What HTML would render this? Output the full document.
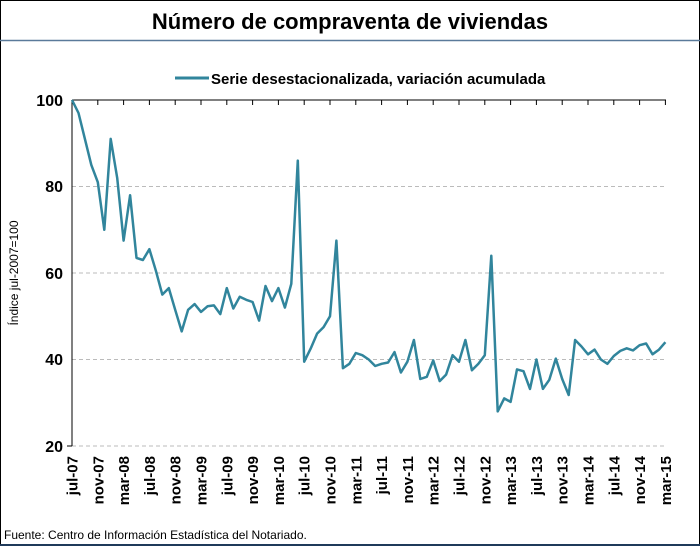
<!DOCTYPE html>
<html><head><meta charset="utf-8"><style>
body{margin:0;background:#fff}
svg text{font-family:"Liberation Sans",Arial,sans-serif}
</style></head><body>
<svg width="700" height="546" viewBox="0 0 700 546" xmlns="http://www.w3.org/2000/svg">
<rect x="0.5" y="0.5" width="699" height="545" fill="#fff" stroke="#000"/>
<line x1="0" y1="40.5" x2="700" y2="40.5" stroke="#5a7a9a" stroke-width="1.5"/>
<line x1="0" y1="545" x2="700" y2="545" stroke="#1f3a5a" stroke-width="2"/>
<text x="350" y="29" text-anchor="middle" font-size="22" font-weight="bold">Número de compraventa de viviendas</text>
<line x1="175" y1="78" x2="209" y2="78" stroke="#31859c" stroke-width="3"/>
<text x="211" y="84" font-size="15" font-weight="bold">Serie desestacionalizada, variación acumulada</text>
<text transform="translate(18,273) rotate(-90)" text-anchor="middle" font-size="12">Índice jul-2007=100</text>
<g stroke="#bbb" stroke-dasharray="4,3">
<line x1="72" y1="186.5" x2="666" y2="186.5"/>
<line x1="72" y1="273" x2="666" y2="273"/>
<line x1="72" y1="359.5" x2="666" y2="359.5"/>
<line x1="72" y1="446" x2="666" y2="446"/>
</g>
<line x1="72" y1="100" x2="72" y2="446" stroke="#000"/>
<line x1="72" y1="100" x2="666" y2="100" stroke="#000"/>
<g stroke="#000" id="ticks"></g>
<g font-size="16" font-weight="bold" text-anchor="end">
<text x="63" y="106">100</text><text x="63" y="192">80</text><text x="63" y="279">60</text><text x="63" y="365">40</text><text x="63" y="452">20</text>
</g>
<line x1="67" y1="446" x2="72" y2="446" stroke="#000"/>
<g id="xl" font-size="15" font-weight="bold"></g>
<polyline id="ser" fill="none" stroke="#31859c" stroke-width="2.5" stroke-linejoin="round"/>
<text x="4" y="539" font-size="12">Fuente: Centro de Información Estadística del Notariado.</text>
</svg>
<script>
var d=[100,97,91,85,81,70,91,82,67.5,78,63.5,63,65.5,60.5,55,56.5,51.5,46.5,51.5,52.8,51,52.3,52.5,50.5,56.5,51.8,54.5,53.8,53.3,49,57,53.5,56.5,52,57.5,86,39.5,42.5,46,47.5,50,67.5,38,39,41.5,41,40,38.5,39,39.3,41.7,37,39.5,44.5,35.5,36,39.8,35,36.5,41,39.5,44.5,37.5,39,41,64,28,31,30.2,37.7,37.3,33.2,40,33.2,35.3,40.2,35.5,31.8,44.5,43,41.2,42.3,40,39,40.8,42,42.6,42.1,43.3,43.7,41.2,42.3,44];
var p=d.map(function(v,i){return (72+6.45*i).toFixed(1)+","+(100+(100-v)*4.325).toFixed(1)}).join(" ");
document.getElementById("ser").setAttribute("points",p);
var ns="http://www.w3.org/2000/svg",t=document.getElementById("ticks"),xl=document.getElementById("xl");
var m=["jul","nov","mar"],y=7;
for(var k=0;k<24;k++){var x=72+25.8*k;
if(k>0){var l=document.createElementNS(ns,"line");l.setAttribute("x1",x);l.setAttribute("x2",x);l.setAttribute("y1",100);l.setAttribute("y2",105);t.appendChild(l);}
var mm=m[k%3];if(mm=="mar")y++;
var tx=document.createElementNS(ns,"text");tx.setAttribute("transform","translate("+(x+5.5)+",456) rotate(-90)");tx.setAttribute("text-anchor","end");
tx.textContent=mm+"-"+(y<10?"0"+y:y);xl.appendChild(tx);}
</script>
</body></html>
